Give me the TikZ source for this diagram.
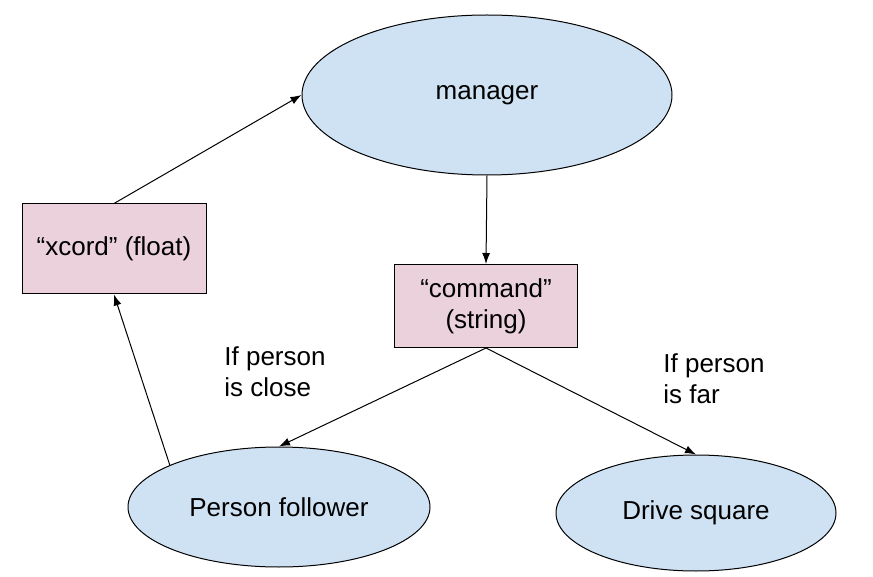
\documentclass[tikz,border=0pt]{standalone}
\usepackage{fontspec}
\setmainfont{Liberation Sans}
\usetikzlibrary{arrows.meta,shapes.geometric}
\definecolor{nodeblue}{HTML}{CFE2F3}
\definecolor{topicpink}{HTML}{EAD1DC}

\begin{document}
\begin{tikzpicture}[x=1pt, y=-1pt, font=\fontsize{26}{31}\selectfont, -{Latex[length=11pt,width=8pt]}, line width=1pt,
	proc/.style={ellipse, draw, fill=nodeblue, inner sep=0pt},
	topic/.style={rectangle, draw, fill=topicpink, align=center, inner sep=0pt},
	cond/.style={align=left, inner sep=0pt}]
	\useasboundingbox (0,0) rectangle (873,577);
	\node[proc, minimum width=370pt, minimum height=160pt] (manager) at (487,95) {manager};
	\node[topic, minimum width=184pt, minimum height=90pt] (xcord) at (114,249) {“xcord” (float)};
	\node[topic, minimum width=183pt, minimum height=83pt] (command) at (486,306) {“command”\\(string)};
	\node[proc, minimum width=302pt, minimum height=120pt] (follower) at (279,507) {Person follower};
	\node[proc, minimum width=280pt, minimum height=116pt] (drive) at (696,513) {Drive square};
	\node[cond] (close) at (275,372) {If person\\is close};
	\node[cond] (far) at (714,379) {If person\\is far};
	% connections
	\draw (xcord.north) -- (manager.west);
	\draw (manager.south) -- (command.north);
	\draw (command.south) -- (follower.north);
	\draw (command.south) -- (drive.north);
	\draw (follower.159) -- (xcord.south);
\end{tikzpicture}
\end{document}
